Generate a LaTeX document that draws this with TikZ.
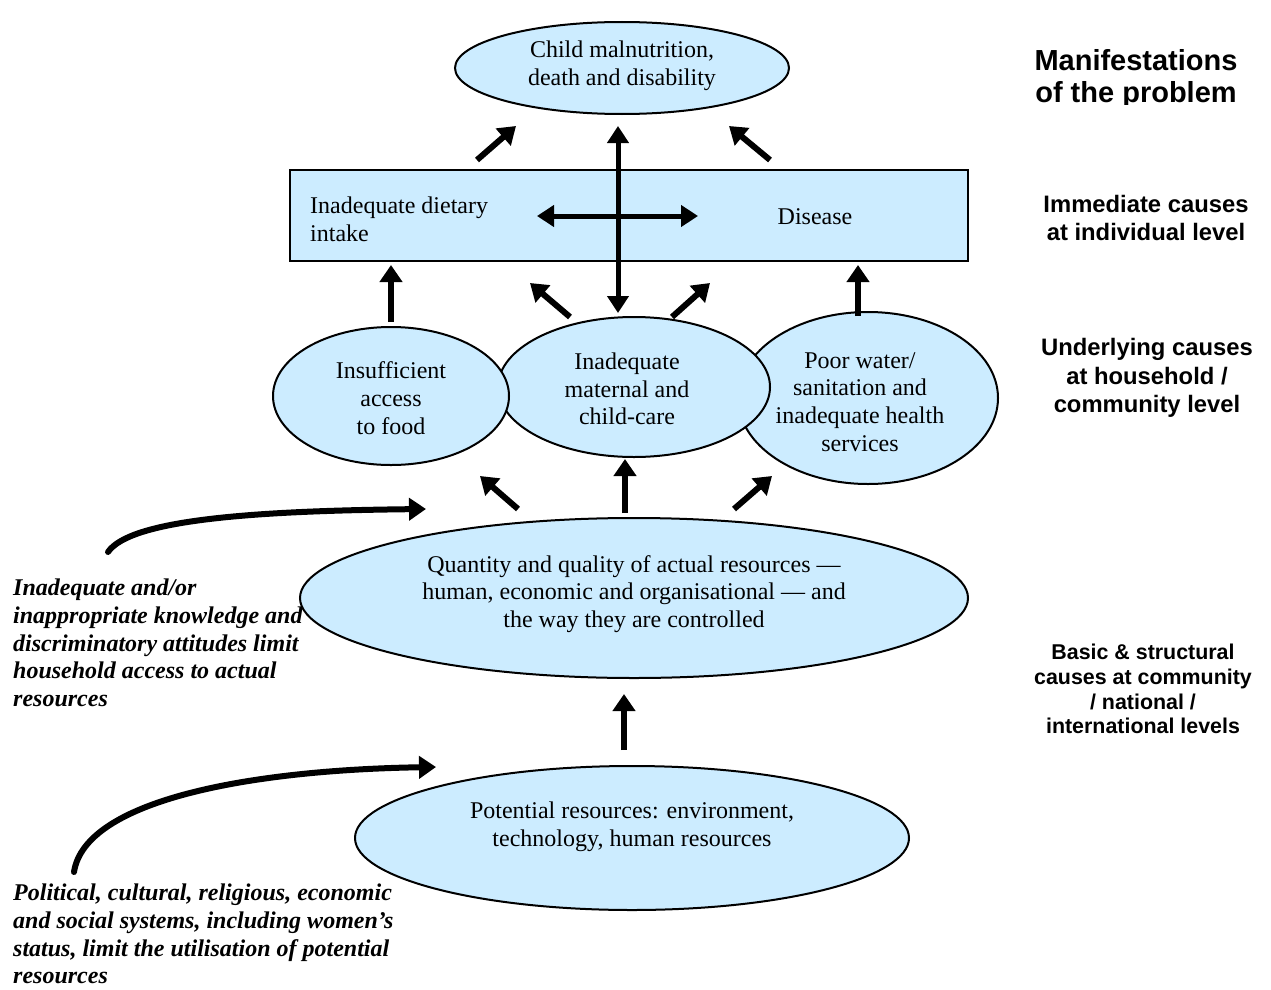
\documentclass[tikz,border=0pt]{standalone}
\usepackage{fontspec}
\setmainfont{Liberation Serif}
\newfontfamily\arialfont{Liberation Sans}
\usetikzlibrary{arrows.meta,shapes.geometric}
\definecolor{boxblue}{RGB}{204,236,255}
\begin{document}
\begin{tikzpicture}[x=1pt,y=-1pt,
 ell/.style={ellipse,draw,line width=2pt,fill=boxblue,inner sep=0pt},
 txt/.style={align=center,font=\fontsize{24}{27.7}\selectfont,inner sep=0pt},
 lev/.style={align=center,font=\arialfont\bfseries\fontsize{23.8}{28.3}\selectfont,inner sep=0pt},
 note/.style={align=left,font=\bfseries\itshape\fontsize{24}{27.7}\selectfont,inner sep=0pt,anchor=north west},
 arr/.style={line width=6pt,-{Triangle[length=17pt,width=22pt]}},
 darr/.style={line width=5pt,{Triangle[length=17pt,width=21pt]}-{Triangle[length=17pt,width=21pt]}},
 carr/.style={line width=6pt,line cap=round,-{Triangle[length=17pt,width=22pt]}},
]
\useasboundingbox (0,0) rectangle (1271,990);

% boxes
\node[ell,minimum width=334pt,minimum height=92pt] (top) at (622,68) {};
\node[txt] (toptxt) at (622,66) {Child malnutrition,\\death and disability};

\node[draw,line width=2pt,fill=boxblue,minimum width=678pt,minimum height=91pt,inner sep=0pt] (rect) at (629,215.5) {};
\node[txt,align=left,anchor=west] (diet) at (310,219) {Inadequate dietary\\intake};
\node[txt] (disease) at (815,217) {Disease};

\node[ell,minimum width=260pt,minimum height=172pt] (water) at (868,398) {};
\node[ell,minimum width=272pt,minimum height=140pt] (care) at (634,387) {};
\node[ell,minimum width=236pt,minimum height=138pt] (food) at (391,396) {};
\node[txt] (foodtxt) at (391,398) {Insufficient\\access\\to food};
\node[txt] (caretxt) at (627,389) {Inadequate\\maternal and\\child-care};
\node[txt] (watertxt) at (860,402) {Poor water/\\sanitation and\\inadequate health\\services};

\node[ell,minimum width=668pt,minimum height=160pt] (quant) at (634,598) {};
\node[txt] (quanttxt) at (634,594) {Quantity and quality of actual resources ---\\human, economic and organisational --- and\\the way they are controlled};

\node[ell,minimum width=554pt,minimum height=144pt] (pot) at (632,838) {};
\node[txt] (pottxt) at (632,827) {Potential resources: environment,\\technology, human resources};

% level labels
\begin{scope}
\clip (1000,0) rectangle (1271,104);
\node[lev,font=\arialfont\bfseries\fontsize{29}{32.5}\selectfont] (lv1) at (1136,79) {Manifestations\\of the problem};
\end{scope}
\node[lev] (lv2) at (1146,218) {Immediate causes\\at individual level};
\node[lev] (lv3) at (1147,378) {Underlying causes\\at household /\\community level};
\node[lev,font=\arialfont\bfseries\fontsize{21.4}{24.8}\selectfont] (lv4) at (1143,689) {Basic \& structural\\causes at community\\/ national /\\international levels};

% notes
\node[note] (n1) at (13,579) {Inadequate and/or\\inappropriate knowledge and\\discriminatory attitudes limit\\household access to actual\\resources};
\node[note] (n2) at (13,884) {Political, cultural, religious, economic\\and social systems, including women's\\status, limit the utilisation of potential\\resources};

% arrow end points
\coordinate (a1s) at (477,160); \coordinate (a1e) at (516,126);
\coordinate (a2s) at (770,160); \coordinate (a2e) at (729,126);
\coordinate (vt) at (618,126); \coordinate (vb) at (618,313);
\coordinate (hl) at (537,216); \coordinate (hr) at (698,216);
\coordinate (b1s) at (391,322); \coordinate (b1e) at (391,265);
\coordinate (b2s) at (570,317); \coordinate (b2e) at (530,283);
\coordinate (b3s) at (672,317); \coordinate (b3e) at (710,283);
\coordinate (b4s) at (858,316); \coordinate (b4e) at (858,265);
\coordinate (c1s) at (518,509); \coordinate (c1e) at (480,476);
\coordinate (c2s) at (625,513); \coordinate (c2e) at (625,459);
\coordinate (c3s) at (734,509); \coordinate (c3e) at (772,476);
\coordinate (d1s) at (624,750); \coordinate (d1e) at (624,694);
\coordinate (k1s) at (108,552); \coordinate (k1e) at (426,509);
\coordinate (k2s) at (74,872); \coordinate (k2e) at (436,767);

% arrows
\draw[arr] (a1s) -- (a1e);
\draw[arr] (a2s) -- (a2e);
\draw[darr] (vt) -- (vb);
\draw[darr] (hl) -- (hr);
\draw[arr] (b1s) -- (b1e);
\draw[arr] (b2s) -- (b2e);
\draw[arr] (b3s) -- (b3e);
\draw[arr] (b4s) -- (b4e);
\draw[arr] (c1s) -- (c1e);
\draw[arr] (c2s) -- (c2e);
\draw[arr] (c3s) -- (c3e);
\draw[arr] (d1s) -- (d1e);
\draw[carr] (k1s) .. controls (130,520) and (250,511) .. (k1e);
\draw[carr] (k2s) .. controls (85,800) and (250,770) .. (k2e);
\end{tikzpicture}
\end{document}
